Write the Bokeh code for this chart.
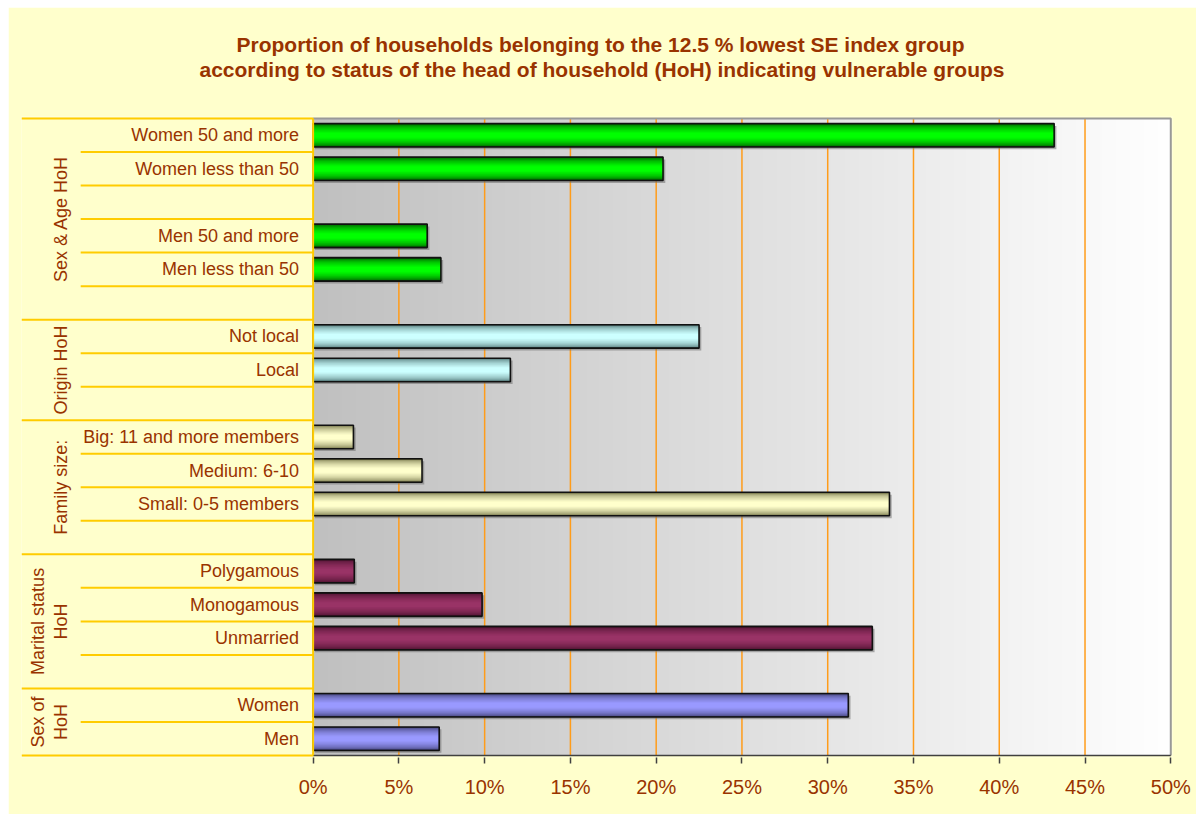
import numpy as np
from bokeh.plotting import figure
from bokeh.models import Range1d, FixedTicker, PrintfTickFormatter, Title
from bokeh.embed import file_html
from bokeh.resources import INLINE
from bokeh.core.properties import value

# ---------------- data ----------------
title_lines = [
    "Proportion of households belonging to the 12.5 % lowest SE index group",
    "according to status of the head of household (HoH) indicating vulnerable groups",
]

group_names = ["Sex & Age HoH", "Origin HoH", "Family size:", "Marital status\nHoH", "Sex of\nHoH"]
group_rows = [6, 3, 4, 4, 2]  # rows per group (top to bottom), incl. empty spacer rows

labels = [
    "Women 50 and more", "Women less than 50", "", "Men 50 and more", "Men less than 50", "",
    "Not local", "Local", "",
    "Big: 11 and more members", "Medium: 6-10", "Small: 0-5 members", "",
    "Polygamous", "Monogamous", "Unmarried", "",
    "Women", "Men",
]
values = [
    43.2, 20.4, None, 6.65, 7.45, None,
    22.5, 11.5, None,
    2.35, 6.35, 33.6, None,
    2.4, 9.85, 32.6, None,
    31.2, 7.35,
]
x_ticks = [0, 5, 10, 15, 20, 25, 30, 35, 40, 45, 50]

# ---------------- style ----------------
group_edge = ["#003800", "#3a5c5c", "#5a5a30", "#3a0a22", "#30305a"]
group_center = ["#00FF00", "#CCFFFF", "#FFFFCC", "#993366", "#9999FF"]
BG = "#FFFFCC"
TXT = "#993300"
GOLD = "#FFCC00"
FONT = "Liberation Sans"
BAR_H = 0.70
X_LEFT = -17.0
SHORT_X = -13.55
GROUP_X = -14.1

N = len(labels)
group_of_row = []
for g, r in enumerate(group_rows):
    group_of_row += [g] * r

p = figure(width=1188, height=807, margin=(7, 0, 0, 8), output_backend="svg", toolbar_location=None,
           x_range=Range1d(X_LEFT, x_ticks[-1] + 0.1), y_range=Range1d(-0.06, N + 0.06),
           y_axis_location=None,
           min_border_left=13, min_border_right=24, min_border_top=109, min_border_bottom=57)
p.background_fill_color = BG
p.border_fill_color = BG
p.outline_line_color = None
p.grid.visible = False

# title: spacer panel next to the frame, then the two lines
p.add_layout(Title(text=" ", text_font=FONT, text_font_size="21px", standoff=11), "above")
for t, off in zip(reversed(title_lines), (178, 215)):
    p.add_layout(Title(text=t, align="left", offset=off, text_font=FONT, text_font_size="21px",
                       text_font_style="bold", text_color=TXT, standoff=0), "above")

# plot-area gradient background
W = 430
shade = np.linspace(192, 255, W).astype(np.uint8)
img = np.empty((1, W), dtype=np.uint32)
view = img.view(dtype=np.uint8).reshape((1, W, 4))
view[0, :, 0] = shade
view[0, :, 1] = shade
view[0, :, 2] = shade
view[0, :, 3] = 255
p.image_rgba(image=[img], x=x_ticks[0], y=0, dw=x_ticks[-1] - x_ticks[0], dh=N)

# grid lines
gx = x_ticks[1:-1]
p.segment(x0=gx, x1=gx, y0=[0] * len(gx), y1=[N] * len(gx), line_color="#FF9C1A",
          line_width=1.5)

# bars
ys, vals, gids = [], [], []
for i, v in enumerate(values):
    if v is not None:
        ys.append(N - i - 0.5)
        vals.append(v)
        gids.append(group_of_row[i])


def mix(c1, c2, f):
    a = np.array([int(c1[k:k + 2], 16) for k in (1, 3, 5)], float)
    b = np.array([int(c2[k:k + 2], 16) for k in (1, 3, 5)], float)
    c = a + (b - a) * f
    return "#%02x%02x%02x" % tuple(int(round(x)) for x in c)


# soft shadow
p.hbar(y=[y - 0.07 for y in ys], left=0.1, right=[v + 0.13 for v in vals], height=BAR_H,
       fill_color="#707070", fill_alpha=0.55, line_color=None)

K = 12
for j in range(K):
    f = j / (K - 1)
    h = BAR_H * (1 - 0.8 * f)
    cols = [mix(group_edge[g], group_center[g], f ** 0.45) for g in gids]
    p.hbar(y=ys, left=0, right=vals, height=h, fill_color=cols, line_color=None)
p.hbar(y=ys, left=0, right=vals, height=BAR_H, fill_color=None, line_color="#111111", line_width=1.6)

# plot-area borders
p.line(x=[x_ticks[0], x_ticks[-1], x_ticks[-1]], y=[N, N, 0], line_color="#999999", line_width=2)
p.segment(x0=[x_ticks[0]], x1=[x_ticks[-1]], y0=[0], y1=[0], line_color="#404040", line_width=1.5)

# category-side separators
bounds = list(np.cumsum([0] + group_rows))
long_y = [N - b for b in bounds]
short_y = [N - k for k in range(1, N) if k not in bounds]
p.segment(x0=[X_LEFT] * len(long_y), x1=[0] * len(long_y), y0=long_y, y1=long_y,
          line_color=GOLD, line_width=2)
p.segment(x0=[SHORT_X] * len(short_y), x1=[0] * len(short_y), y0=short_y, y1=short_y,
          line_color=GOLD, line_width=2)
p.segment(x0=[0], x1=[0], y0=[0], y1=[N], line_color=GOLD, line_width=2)

# row labels
lab_y = [N - i - 0.5 for i in range(N)]
p.text(x=[0] * N, y=lab_y, text=labels, x_offset=-14, text_align="right", text_baseline="middle",
       text_font=value(FONT), text_font_size="18px", text_color=TXT)

# group labels
gy = [N - (bounds[g] + group_rows[g] / 2) for g in range(len(group_rows))]
p.text(x=[GROUP_X] * len(gy), y=gy, text=group_names, angle=np.pi / 2, text_align="center",
       text_baseline="bottom", text_font=value(FONT), text_font_size="18px", text_color=TXT,
       text_line_height=1.15)

# x axis
ax = p.xaxis[0]
ax.ticker = FixedTicker(ticks=x_ticks)
ax.formatter = PrintfTickFormatter(format="%d%%")
ax.axis_line_color = None
ax.major_tick_line_color = "#404040"
ax.major_tick_line_width = 1.5
ax.major_tick_out = 6
ax.major_tick_in = 0
ax.minor_tick_line_color = None
ax.major_label_text_font = FONT
ax.major_label_text_font_size = "20px"
ax.major_label_text_color = TXT
ax.major_label_standoff = 12

open("out.html", "w").write(file_html(p, INLINE))
